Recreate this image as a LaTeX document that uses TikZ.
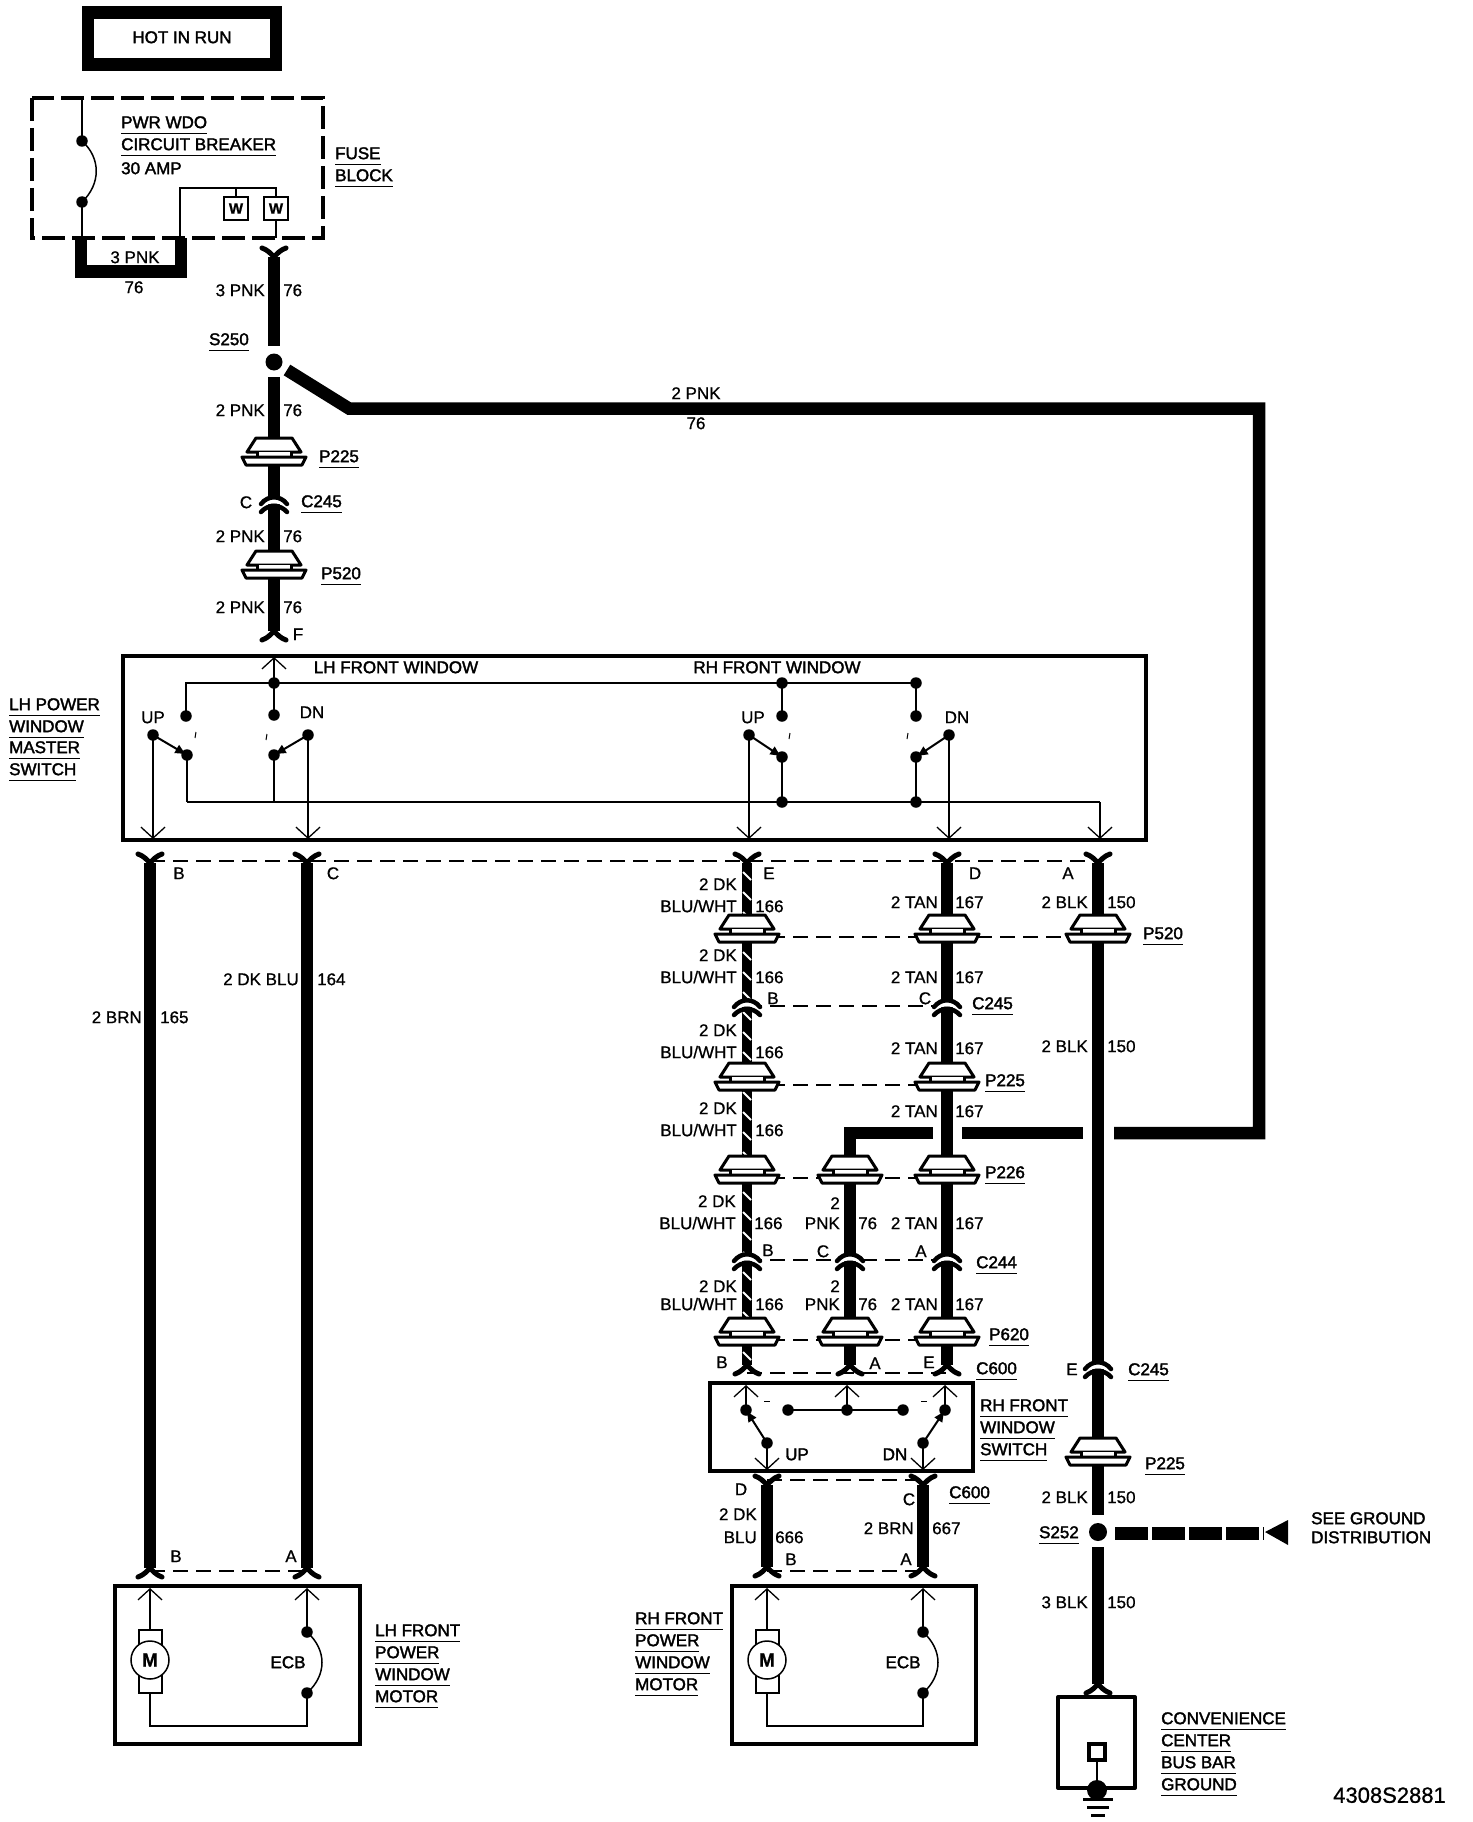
\documentclass[tikz,border=0pt]{standalone}
\usepackage{fontspec}
\setmainfont[FakeBold=0.8]{Liberation Sans}
\newfontfamily\fbf[FakeBold=2]{Liberation Sans}
\usetikzlibrary{arrows.meta}
\newcommand\ulab[1]{\setbox0\hbox{#1}\rlap{\vrule width\wd0 height -4.4pt depth 5.4pt}\box0}
\tikzset{
  x=1pt,y=-1pt,
  lab/.style={inner sep=0pt,text height=12.3pt,text depth=0pt,font=\fontsize{17}{20}\selectfont},
  blab/.style={lab,font=\fontsize{17}{20}\selectfont\fbf},
  wire/.style={line width=12.5pt,line cap=butt,miter limit=10},
  tapwire/.style={line width=10.5pt,line cap=butt},
  thinw/.style={line width=1.5pt},
  boxline/.style={line width=4pt,draw=black},
  link/.style={line width=1.2pt,dash pattern=on 15pt off 8pt},
  dot/.style={circle,fill=black,inner sep=0pt,minimum size=11.5pt},
  outarrow/.style={thinw,-{Straight Barb[length=11pt,width=24pt,line width=1.3pt]}},
  swarrow/.style={line width=2pt,-{Latex[length=12pt,width=10pt]}},
  pinc/.pic={
    \draw[line width=3pt,fill=white,line join=round] (-18,-22)--(18,-22)--(27,-8)--(-27,-8)--cycle;
    \fill[white] (-17,-8) rectangle (17,-3);
    \draw[line width=3pt] (-17,-8)--(-17,-3) (17,-8)--(17,-3);
    \draw[line width=3pt,fill=white,line join=round] (-32,-3)--(32,-3)--(28,5)--(-28,5)--cycle;
  },
  capc/.pic={
    \draw[white,line width=4.5pt] (-13,2) .. controls (-6,-3) and (6,-3) .. (13,2);
    \draw[line width=4.5pt,line cap=round] (-13,1) .. controls (-6,-8) and (6,-8) .. (13,1);
    \draw[line width=4.5pt,line cap=round] (-13,9) .. controls (-6,1) and (6,1) .. (13,9);
  },
  forkt/.pic={\draw[line width=5pt,line cap=round,line join=round] (-12,-9) .. controls (-6,-7) and (-3,-3) .. (0,0) .. controls (3,-3) and (6,-7) .. (12,-9);},
  forkb/.pic={\draw[line width=5pt,line cap=round,line join=round] (-12,9) .. controls (-6,7) and (-3,3) .. (0,0) .. controls (3,3) and (6,7) .. (12,9);},
}
\begin{document}
\begin{tikzpicture}
\useasboundingbox (0,0) rectangle (1472,1822);
\fill[white] (0,0) rectangle (1472,1822);

% ---------- named points on the wires
\coordinate (top) at (274,257);
\coordinate (s250end) at (274,346);
\coordinate (s250beg) at (274,377);
\coordinate (pL1) at (274,460);
\coordinate (cL) at (274,503);
\coordinate (pL2) at (274,573);
\coordinate (forkF) at (274,631);
\coordinate (forkB) at (150,863); \coordinate (forkC) at (307,863);
\coordinate (forkE) at (747,863); \coordinate (forkD) at (947,863); \coordinate (forkA) at (1098,863);
\coordinate (pE1) at (747,937); \coordinate (pD1) at (947,937); \coordinate (pA1) at (1098,937);
\coordinate (cE) at (747,1006); \coordinate (cD) at (947,1006);
\coordinate (pE2) at (747,1085); \coordinate (pD2) at (947,1085);
\coordinate (pE3) at (747,1178); \coordinate (pP3) at (850,1178); \coordinate (pD3) at (947,1178);
\coordinate (cE2) at (747,1260); \coordinate (cP2) at (850,1260); \coordinate (cD2) at (947,1260);
\coordinate (pE4) at (747,1340); \coordinate (pP4) at (850,1340); \coordinate (pD4) at (947,1340);
\coordinate (forkEb) at (747,1365); \coordinate (forkPb) at (850,1365); \coordinate (forkDb) at (947,1365);
\coordinate (cA) at (1098,1368); \coordinate (pA2) at (1098,1460);
\coordinate (aEnd) at (1098,1515); \coordinate (aBeg) at (1098,1547);
\coordinate (forkAb) at (1098,1684);
\coordinate (forkM1) at (150,1568); \coordinate (forkM2) at (307,1568);
\coordinate (forkS1) at (767,1485); \coordinate (forkS2) at (923,1485);
\coordinate (forkR1) at (767,1567); \coordinate (forkR2) at (923,1567);

% ---------- heavy wires
\draw[wire] (top)--(s250end);
\draw[wire] (s250beg)--(forkF);
\draw[wire] (forkB)--(forkM1);
\draw[wire] (forkC)--(forkM2);
\draw[tapwire] (forkE)--(forkEb);
\foreach \y in {872,892,...,1352}{\draw[white,line width=2pt] (743,\y)--(751,\y+8);}
\draw[wire] (forkD)--(forkDb);
\draw[wire] (forkA)--(aEnd);
\draw[wire] (aBeg)--(forkAb);
\draw[wire] (forkS1)--(forkR1);
\draw[wire] (forkS2)--(forkR2);
% splice branch
\coordinate (b0) at (287,370); \coordinate (b1) at (349,408.5); \coordinate (b2) at (1259,408.5);
\coordinate (b3) at (1259,1133); \coordinate (b4) at (1114,1133);
\coordinate (b5) at (1083,1133); \coordinate (b6) at (962,1133);
\coordinate (b7) at (933,1133); \coordinate (b8) at (850,1133);
\draw[wire] (b0)--(b1)--(b2)--(b3)--(b4);
\draw[wire] (b5)--(b6);
\draw[wire] (b7)--(b8)--(pP3);
\draw[wire] (pP3)--(forkPb);

% ---------- thin dashed links
\draw[link] (150,861)--(1098,861);
\draw[link] (pE1)--(pD1)--(pA1);
\draw[link] (cE)--(cD);
\draw[link] (pE2)--(pD2);
\draw[link] (pE3)--(pP3)--(pD3);
\draw[link] (cE2)--(cP2)--(cD2);
\draw[link] (pE4)--(pP4)--(pD4);
\draw[link] (747,1373)--(947,1373);
\draw[link] (767,1480)--(923,1480);
\draw[link] (767,1571)--(923,1571);
\draw[link] (150,1571)--(307,1571);

% ---------- inline connectors
\foreach \c in {pL1,pL2,pE1,pD1,pA1,pE2,pD2,pE3,pP3,pD3,pE4,pP4,pD4,pA2}{\pic at (\c) {pinc};}
\foreach \c in {cL,cE,cD,cE2,cP2,cD2,cA}{\pic at (\c) {capc};}
\foreach \c in {top,forkB,forkC,forkE,forkD,forkA,forkS1,forkS2}{\pic at (\c) {forkt};}
\foreach \c in {forkF,forkEb,forkPb,forkDb,forkM1,forkM2,forkR1,forkR2,forkAb}{\pic at (\c) {forkb};}

% ---------- hot in run
\draw[line width=12.5pt] (88,12.5) rectangle (276,64.5);
\node[blab] (hot) at (182,37) {HOT IN RUN};

% ---------- fuse block
\draw[line width=4pt,dash pattern=on 23pt off 7pt] (32,98) rectangle (323,238);
\node[dot] (cb1) at (82,141) {};
\node[dot] (cb2) at (82,202) {};
\coordinate (cbT) at (82,98); \coordinate (cbB) at (82,238);
\draw[thinw] (cbT)--(cb1.center);
\draw[thinw] (cb2.center)--(cbB);
\draw[thinw] (cb1.center) .. controls (101,158) and (101,184) .. (cb2.center);
\node[draw,thinw,inner sep=0pt,minimum width=24pt,minimum height=23pt,font=\fontsize{15}{17}\selectfont\bfseries] (w1) at (236,208.5) {W};
\node[draw,thinw,inner sep=0pt,minimum width=24pt,minimum height=23pt,font=\fontsize{15}{17}\selectfont\bfseries] (w2) at (276,208.5) {W};
\coordinate (fbA) at (180,238); \coordinate (fbB) at (180,188); \coordinate (fbC) at (276,188); \coordinate (fbD) at (236,188); \coordinate (fbE) at (276,238);
\draw[thinw] (fbA)--(fbB)--(fbC)--(w2.north);
\draw[thinw] (fbD)--(w1.north);
\draw[thinw] (w2.south)--(fbE);
\coordinate (bk1) at (81,238); \coordinate (bk2) at (81,271.5); \coordinate (bk3) at (181,271.5); \coordinate (bk4) at (181,238);
\draw[wire] (bk1)--(bk2)--(bk3)--(bk4);
\node[blab,anchor=west] (t1) at (121,122) {\ulab{PWR WDO}};
\node[blab,anchor=west] (t2) at (121,144) {\ulab{CIRCUIT BREAKER}};
\node[blab,anchor=west] (t3) at (121,168) {30 AMP};
\node[blab,anchor=west] (t4) at (335,153) {\ulab{FUSE}};
\node[blab,anchor=west] (t5) at (335,175) {\ulab{BLOCK}};
\node[lab] (t6) at (135,257) {3 PNK};
\node[lab] (t7) at (134,287) {76};

% ---------- upper left wire labels
\node[lab,anchor=east] (t8) at (265,290) {3 PNK};
\node[lab,anchor=west] (t9) at (283,290) {76};
\node[blab,anchor=east] (t10) at (249,339) {\ulab{S250}};
\node[dot,minimum size=17pt] (s250) at (274,362) {};
\node[lab,anchor=east] (t11) at (265,410) {2 PNK};
\node[lab,anchor=west] (t12) at (283,410) {76};
\node[blab,anchor=west] (t13) at (319,456) {\ulab{P225}};
\node[lab] (t14) at (246,502) {C};
\node[blab,anchor=west] (t15) at (301,501) {\ulab{C245}};
\node[lab,anchor=east] (t16) at (265,536) {2 PNK};
\node[lab,anchor=west] (t17) at (283,536) {76};
\node[blab,anchor=west] (t18) at (321,573) {\ulab{P520}};
\node[lab,anchor=east] (t19) at (265,607) {2 PNK};
\node[lab,anchor=west] (t20) at (283,607) {76};
\node[lab] (t21) at (298,634) {F};
\node[lab] (t22) at (696,393) {2 PNK};
\node[lab] (t23) at (696,423) {76};

% ---------- master switch
\draw[boxline] (123,656) rectangle (1146,840);
\node[blab] (t24) at (396,667) {LH FRONT WINDOW};
\node[blab] (t25) at (777,667) {RH FRONT WINDOW};
\node[dot] (j1) at (274,683) {};
\node[dot] (j2) at (782,683) {};
\node[dot] (j3) at (916,683) {};
\coordinate (j0) at (186,683);
\node[dot] (a1) at (186,716) {};
\node[dot] (a2) at (274,715) {};
\node[dot] (a3) at (782,716) {};
\node[dot] (a4) at (916,716) {};
\node[dot] (u1) at (153,735) {};
\node[dot] (u2) at (308,735) {};
\node[dot] (u3) at (749,735) {};
\node[dot] (u4) at (949,735) {};
\node[dot] (m1) at (187,755) {};
\node[dot] (m2) at (274,755) {};
\node[dot] (m3) at (782,757) {};
\node[dot] (m4) at (916,757) {};
\coordinate (bL) at (187,802);
\coordinate (bN) at (274,802);
\node[dot] (b3d) at (782,802) {};
\node[dot] (b4d) at (916,802) {};
\coordinate (bR) at (1100,802);
\coordinate (up0) at (274,657);
\coordinate (o1) at (153,839); \coordinate (o2) at (308,839); \coordinate (o3) at (749,839); \coordinate (o4) at (949,839); \coordinate (o5) at (1100,839);
\draw[outarrow] (j1.center)--(up0);
\draw[thinw] (a1.center)--(j0)--(j3.center)--(a4.center);
\draw[thinw] (j1.center)--(a2.center);
\draw[thinw] (j2.center)--(a3.center);
\draw[thinw] (bL)--(bR);
\draw[thinw] (m1.center)--(bL);
\draw[thinw] (m2.center)--(bN);
\draw[thinw] (m3.center)--(b3d.center);
\draw[thinw] (m4.center)--(b4d.center);
\draw[swarrow] (u1.center)--(m1.center);
\draw[swarrow] (u2.center)--(m2.center);
\draw[swarrow] (u3.center)--(m3.center);
\draw[swarrow] (u4.center)--(m4.center);
\draw[outarrow] (u1.center)--(o1);
\draw[outarrow] (u2.center)--(o2);
\draw[outarrow] (u3.center)--(o3);
\draw[outarrow] (u4.center)--(o4);
\draw[outarrow] (bR)--(o5);
\draw[line width=1pt] (196,732)--(195,738) (267,734)--(266,740) (790,733)--(789,739) (908,733)--(907,739);
\node[lab] (t26) at (153,717) {UP};
\node[lab] (t27) at (312,712) {DN};
\node[lab] (t28) at (753,717) {UP};
\node[lab] (t29) at (957,717) {DN};
\node[blab,anchor=west] (t30) at (9,704) {\ulab{LH POWER}};
\node[blab,anchor=west] (t31) at (9,726) {\ulab{WINDOW}};
\node[blab,anchor=west] (t32) at (9,747) {\ulab{MASTER}};
\node[blab,anchor=west] (t33) at (9,769) {\ulab{SWITCH}};

% ---------- labels under master switch
\node[lab] (t34) at (179,873) {B};
\node[lab] (t35) at (333,873) {C};
\node[lab] (t36) at (769,873) {E};
\node[lab] (t37) at (975,873) {D};
\node[lab] (t38) at (1068,873) {A};
\node[lab,anchor=east] (t39) at (142,1017) {2 BRN};
\node[lab,anchor=west] (t40) at (160,1017) {165};
\node[lab,anchor=east] (t41) at (299,979) {2 DK BLU};
\node[lab,anchor=west] (t42) at (317,979) {164};

% DK BLU/WHT column
\foreach \n/\a/\b/\xo in {1/884/906/0,2/955/977/0,3/1030/1052/0,4/1108/1130/0,5/1201/1223/-1,6/1286/1304/0}{
  \node[lab,anchor=east] (dk\n) at (737+\xo,\a) {2 DK};
  \node[lab,anchor=east] (bw\n) at (737+\xo,\b) {BLU/WHT};
  \node[lab,anchor=west] (n\n) at (755+\xo,\b) {166};
}
% TAN column
\foreach \n/\a in {1/902,2/977,3/1048,4/1111,5/1223,6/1304}{
  \node[lab,anchor=east] (tan\n) at (938,\a) {2 TAN};
  \node[lab,anchor=west] (m167\n) at (955,\a) {167};
}
% PNK column
\foreach \n/\a/\b in {1/1203/1223,2/1286/1304}{
  \node[lab,anchor=east] (two\n) at (840,\a) {2};
  \node[lab,anchor=east] (pnk\n) at (840,\b) {PNK};
  \node[lab,anchor=west] (s76\n) at (858,\b) {76};
}
% BLK column
\foreach \n/\a in {1/902,2/1046,3/1497,4/1602}{
  \node[lab,anchor=west] (n150\n) at (1107,\a) {150};
}
\node[lab,anchor=east] (k1) at (1088,902) {2 BLK};
\node[lab,anchor=east] (k2) at (1088,1046) {2 BLK};
\node[lab,anchor=east] (k3) at (1088,1497) {2 BLK};
\node[lab,anchor=east] (k4) at (1088,1602) {3 BLK};

\node[blab,anchor=west] (t43) at (1143,933) {\ulab{P520}};
\node[lab] (t44) at (773,998) {B};
\node[lab] (t45) at (925,998) {C};
\node[blab,anchor=west] (t46) at (972,1003) {\ulab{C245}};
\node[blab,anchor=west] (t47) at (985,1080) {\ulab{P225}};
\node[blab,anchor=west] (t48) at (985,1172) {\ulab{P226}};
\node[lab] (t49) at (768,1250) {B};
\node[lab] (t50) at (823,1251) {C};
\node[lab] (t51) at (921,1251) {A};
\node[blab,anchor=west] (t52) at (976,1262) {\ulab{C244}};
\node[blab,anchor=west] (t53) at (989,1334) {\ulab{P620}};
\node[lab] (t54) at (722,1362) {B};
\node[lab] (t55) at (875,1363) {A};
\node[lab] (t56) at (929,1362) {E};
\node[blab,anchor=west] (t57) at (976,1368) {\ulab{C600}};
\node[lab] (t58) at (1072,1369) {E};
\node[blab,anchor=west] (t59) at (1128,1369) {\ulab{C245}};
\node[blab,anchor=west] (t60) at (1145,1463) {\ulab{P225}};

% ---------- RH window switch
\draw[boxline] (710,1383) rectangle (973,1471);
\node[dot] (r1) at (746,1410) {};
\node[dot] (r2) at (788,1410) {};
\node[dot] (r3) at (847,1410) {};
\node[dot] (r4) at (903,1410) {};
\node[dot] (r5) at (945,1410) {};
\node[dot] (r6) at (767,1443) {};
\node[dot] (r7) at (923,1443) {};
\coordinate (ru1) at (746,1385); \coordinate (ru2) at (847,1385); \coordinate (ru3) at (945,1385);
\coordinate (rd1) at (767,1470); \coordinate (rd2) at (923,1470);
\draw[thinw] (r2.center)--(r4.center);
\draw[outarrow] (r1.center)--(ru1);
\draw[outarrow] (r3.center)--(ru2);
\draw[outarrow] (r5.center)--(ru3);
\draw[outarrow] (r6.center)--(rd1);
\draw[outarrow] (r7.center)--(rd2);
\draw[swarrow] (r6.center)--(r1.center);
\draw[swarrow] (r7.center)--(r5.center);
\draw[line width=1pt] (764,1401)--(770,1401) (921,1401)--(927,1401);
\node[blab] (t61) at (797,1454) {UP};
\node[blab] (t62) at (895,1454) {DN};
\node[blab,anchor=west] (t63) at (980,1405) {\ulab{RH FRONT}};
\node[blab,anchor=west] (t64) at (980,1427) {\ulab{WINDOW}};
\node[blab,anchor=west] (t65) at (980,1449) {\ulab{SWITCH}};
\node[lab] (t66) at (741,1489) {D};
\node[lab,anchor=east] (t67) at (757,1514) {2 DK};
\node[lab,anchor=east] (t68) at (757,1537) {BLU};
\node[lab,anchor=west] (t69) at (775,1537) {666};
\node[lab] (t70) at (791,1559) {B};
\node[lab] (t71) at (909,1499) {C};
\node[lab,anchor=east] (t72) at (914,1528) {2 BRN};
\node[lab,anchor=west] (t73) at (932,1528) {667};
\node[lab] (t74) at (906,1559) {A};
\node[blab,anchor=west] (t75) at (949,1492) {\ulab{C600}};

% ---------- S252 and ground pointer
\node[blab,anchor=east] (t76) at (1079,1532) {\ulab{S252}};
\node[dot,minimum size=18pt] (s252) at (1098,1532) {};
\coordinate (gd0) at (1115,1533); \coordinate (gd1) at (1264,1533);
\draw[line width=13pt,dash pattern=on 33pt off 4pt] (gd0)--(gd1);
\fill (1265,1532)--(1288,1520)--(1288,1545)--cycle;
\node[blab,anchor=west] (t77) at (1311,1518) {SEE GROUND};
\node[blab,anchor=west] (t78) at (1311,1537) {DISTRIBUTION};

% ---------- LH motor
\draw[boxline] (115,1586) rectangle (360,1744);
\coordinate (lma) at (150,1588); \coordinate (lmb) at (150,1630);
\coordinate (lmc) at (150,1693); \coordinate (lmd) at (150,1726); \coordinate (lme) at (307,1726);
\coordinate (lmf) at (307,1588);
\node[dot] (le1) at (307,1632) {};
\node[dot] (le2) at (307,1693) {};
\draw[thinw] (139,1630) rectangle (162,1693);
\node[draw,thinw,fill=white,circle,inner sep=0pt,minimum size=38pt,font=\fontsize{19}{21}\selectfont\bfseries] (lm) at (150,1660) {M};
\draw[outarrow] (lmb)--(lma);
\draw[thinw] (lmc)--(lmd)--(lme)--(le2.center);
\draw[outarrow] (le1.center)--(lmf);
\draw[thinw] (le1.center) .. controls (327,1650) and (327,1675) .. (le2.center);
\node[blab] (t79) at (288,1662) {ECB};
\node[lab] (t80) at (176,1556) {B};
\node[lab] (t81) at (291,1556) {A};
\node[blab,anchor=west] (t82) at (375,1630) {\ulab{LH FRONT}};
\node[blab,anchor=west] (t83) at (375,1652) {\ulab{POWER}};
\node[blab,anchor=west] (t84) at (375,1674) {\ulab{WINDOW}};
\node[blab,anchor=west] (t85) at (375,1696) {\ulab{MOTOR}};

% ---------- RH motor
\draw[boxline] (732,1586) rectangle (976,1744);
\coordinate (rma) at (767,1588); \coordinate (rmb) at (767,1630);
\coordinate (rmc) at (767,1693); \coordinate (rmd) at (767,1726); \coordinate (rme) at (923,1726);
\coordinate (rmf) at (923,1588);
\node[dot] (re1) at (923,1632) {};
\node[dot] (re2) at (923,1693) {};
\draw[thinw] (756,1630) rectangle (779,1693);
\node[draw,thinw,fill=white,circle,inner sep=0pt,minimum size=38pt,font=\fontsize{19}{21}\selectfont\bfseries] (rm) at (767,1660) {M};
\draw[outarrow] (rmb)--(rma);
\draw[thinw] (rmc)--(rmd)--(rme)--(re2.center);
\draw[outarrow] (re1.center)--(rmf);
\draw[thinw] (re1.center) .. controls (943,1650) and (943,1675) .. (re2.center);
\node[blab] (t86) at (903,1662) {ECB};
\node[blab,anchor=west] (t88) at (635,1618) {\ulab{RH FRONT}};
\node[blab,anchor=west] (t89) at (635,1640) {\ulab{POWER}};
\node[blab,anchor=west] (t90) at (635,1662) {\ulab{WINDOW}};
\node[blab,anchor=west] (t91) at (635,1684) {\ulab{MOTOR}};

% ---------- ground block
\draw[boxline,line join=round] (1058,1697) rectangle (1135,1788);
\node[draw,line width=3.5pt,fill=white,inner sep=0pt,minimum size=16pt] (gsq) at (1097,1752) {};
\node[dot,minimum size=20pt] (gdot) at (1097,1790) {};
\draw[thinw] (gsq.south)--(gdot.center);
\coordinate (g1a) at (1083,1799); \coordinate (g1b) at (1113,1799);
\coordinate (g2a) at (1087,1807); \coordinate (g2b) at (1109,1807);
\coordinate (g3a) at (1091,1815); \coordinate (g3b) at (1105,1815);
\draw[line width=3pt] (g1a)--(g1b) (g2a)--(g2b) (g3a)--(g3b);
\node[blab,anchor=west] (t92) at (1161,1718) {\ulab{CONVENIENCE}};
\node[blab,anchor=west] (t93) at (1161,1740) {\ulab{CENTER}};
\node[blab,anchor=west] (t94) at (1161,1762) {\ulab{BUS BAR}};
\node[blab,anchor=west] (t95) at (1161,1784) {\ulab{GROUND}};
\node[lab,anchor=east,font=\fontsize{22}{25}\selectfont,text height=15.5pt] (t96) at (1446,1795) {4308S2881};
\end{tikzpicture}
\end{document}
